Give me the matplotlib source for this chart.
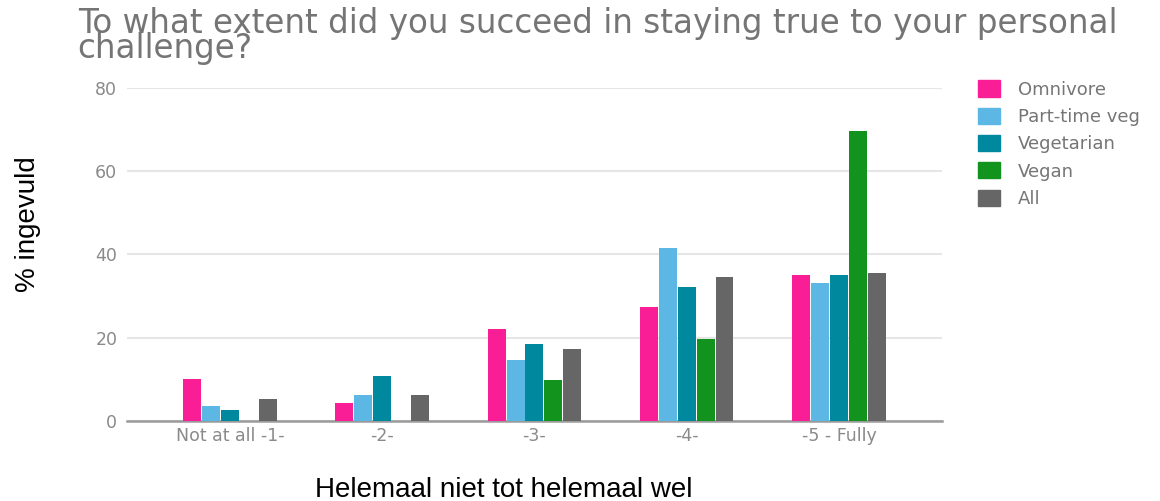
import numpy as np
import matplotlib.pyplot as plt
from matplotlib.patches import Patch

categories = ['Not at all -1-', '-2-', '-3-', '-4-', '-5 - Fully']
series = ['Omnivore', 'Part-time veg', 'Vegetarian', 'Vegan', 'All']
omnivore = [10.2, 4.4, 22.1, 27.5, 35.0]
part_time = [3.5, 6.3, 14.6, 41.5, 33.1]
vegetarian = [2.6, 10.7, 18.6, 32.2, 35.0]
vegan = [0, 0, 9.9, 19.8, 69.6]
all_resp = [5.2, 6.3, 17.4, 34.7, 35.5]
colors = ['#f91d96', '#5db7e5', '#00889f', '#12931d', '#666666']

values = [omnivore, part_time, vegetarian, vegan, all_resp]

fig = plt.figure(figsize=(11.6, 5.01), dpi=100)
ax = fig.add_axes([0.1095, 0.1597, 0.7025, 0.6647])

x = np.arange(len(categories))
w = 0.118
step = 0.124
for i, (vals, c) in enumerate(zip(values, colors)):
    ax.bar(x + (i - 2) * step, vals, width=w, color=c, zorder=3)

ax.set_xlim(-0.676, 4.676)
ax.set_ylim(0, 80)
ax.set_yticks([0, 20, 40, 60, 80])
ax.set_xticks(x)
ax.set_xticklabels(categories)
ax.grid(axis='y', color='#e6e6e6', linewidth=1.5, zorder=0)
for s in ['top', 'right', 'left']:
    ax.spines[s].set_visible(False)
ax.spines['bottom'].set_color('#9a9a9a')
ax.spines['bottom'].set_linewidth(1.8)
ax.tick_params(axis='both', length=0, labelsize=12.5, labelcolor='#8a8a8a')
ax.tick_params(axis='y', pad=7)
ax.tick_params(axis='x', pad=4)

fig.text(0.067, 1 - 7 / 501, 'To what extent did you succeed in staying true to your personal\nchallenge?',
         fontsize=23.5, color='#757575', family='DejaVu Sans', linespacing=0.7, va='top')
fig.text(0.024, 0.553, '% ingevuld', rotation=90, fontsize=20, ha='center', va='center',
         family='Liberation Sans')
fig.text(0.434, 0.008, 'Helemaal niet tot helemaal wel', fontsize=20, ha='center',
         family='Liberation Sans')

handles = [Patch(color=c, label=s) for s, c in zip(series, colors)]
fig.legend(handles=handles, loc='upper left', bbox_to_anchor=(0.829, 0.872),
           frameon=False, fontsize=13, labelcolor='#757575',
           handlelength=1.25, handleheight=1.0, handletextpad=0.95, labelspacing=0.5)

fig.savefig('out.png', dpi=100)
